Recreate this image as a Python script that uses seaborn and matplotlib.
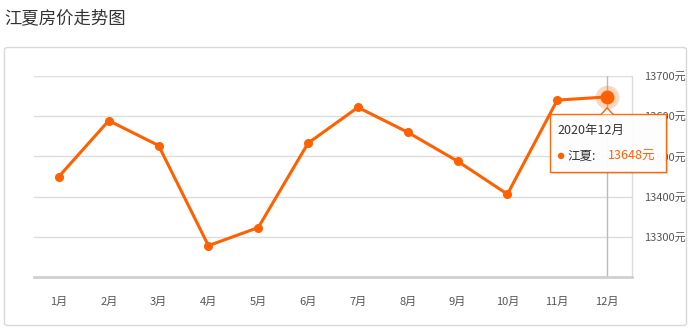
import matplotlib
matplotlib.use("Agg")
import matplotlib.pyplot as plt
import seaborn as sns
import pandas as pd
from matplotlib.patches import FancyBboxPatch, Polygon, Rectangle

months = ["1月", "2月", "3月", "4月", "5月", "6月", "7月", "8月", "9月", "10月", "11月", "12月"]
prices = [13450, 13589, 13527, 13278, 13323, 13533, 13622, 13560, 13488, 13406, 13640, 13648]
yticks = [13300, 13400, 13500, 13600, 13700]
ytick_labels = ["13300元", "13400元", "13500元", "13600元", "13700元"]
series_name = "江夏"
tooltip_title = "2020年12月"
title = "江夏房价走势图"

sns.set_theme(style="white")
plt.rcParams["font.family"] = ["Noto Sans CJK SC", "DejaVu Sans"]

ORANGE = "#ff6000"
W, H = 691, 328
fig = plt.figure(figsize=(W / 100, H / 100), dpi=100)
fig.patch.set_facecolor("white")

# outer rounded panel
panel = FancyBboxPatch((4.5 / W, 2.5 / H), (682 / W), (278 / H),
                       boxstyle="round,pad=0,rounding_size=0.006",
                       transform=fig.transFigure, facecolor="white",
                       edgecolor="#d9d9d9", linewidth=1, zorder=-10)
fig.patches.append(panel)

fig.text(4 / W, 1 - 18 / H, title, fontsize=12.5, color="#333333", va="center", ha="left")

ax = fig.add_axes([34 / W, 1 - 277 / H, (632 - 34) / W, (277 - 76) / H])
ax.set_facecolor("none")

df = pd.DataFrame({"idx": range(len(months)), "price": prices})
sns.lineplot(data=df, x="idx", y="price", ax=ax, color=ORANGE, linewidth=2.2,
             marker="o", markersize=6.5, markeredgewidth=0, zorder=5)

ax.set_xlim(-0.5, len(months) - 0.5)
ax.set_ylim(13200, 13700)
ax.set_xticks(range(len(months)))
ax.set_xticklabels(months)
ax.set_yticks(yticks)
ax.set_yticklabels(ytick_labels)
ax.set_xlabel("")
ax.set_ylabel("")
ax.yaxis.tick_right()
ax.tick_params(axis="y", length=0, pad=9, labelsize=8, labelcolor="#555555")
ax.tick_params(axis="x", length=5, width=1, color="#d0d0d0", pad=9, labelsize=8,
               labelcolor="#555555", direction="out")
for y in yticks:
    ax.axhline(y, color="#dcdcdc", linewidth=1, zorder=0)
for s in ["top", "left"]:
    ax.spines[s].set_visible(False)
ax.spines["right"].set_color("#dcdcdc")
ax.spines["right"].set_linewidth(1)
ax.spines["bottom"].set_color("#d0d0d0")
ax.spines["bottom"].set_linewidth(2)

# crosshair and highlighted point for the last month
last = len(months) - 1
ax.axvline(last, color="#bbbbbb", linewidth=1, zorder=1)
ax.plot([last], [prices[last]], "o", color=ORANGE, alpha=0.25, markersize=17,
        markeredgewidth=0, zorder=6, clip_on=False)
ax.plot([last], [prices[last]], "o", color=ORANGE, markersize=10,
        markeredgewidth=0, zorder=7, clip_on=False)

# tooltip positioned relative to the highlighted point (display pixels)
fig.canvas.draw()
px, py = ax.transData.transform((last, prices[last]))
left, right = px - 57, px + 59
top, bottom = py - 17, py - 75
shadow = Rectangle((left + 2, bottom - 2), right - left, top - bottom, transform=None,
                   facecolor="#000000", alpha=0.12, edgecolor="none", zorder=20)
box = Rectangle((left, bottom), right - left, top - bottom, transform=None,
                facecolor="white", edgecolor=ORANGE, linewidth=1, zorder=21, alpha=0.95)
arrow = Polygon([(px - 6, top - 0.5), (px, top + 6), (px + 6, top - 0.5)], closed=False,
                transform=None, facecolor="white", edgecolor=ORANGE, linewidth=1, zorder=22)
fig.patches.extend([shadow, box, arrow])
fig.text((left + 7) / W, (top - 17) / H, tooltip_title, fontsize=9, color="#333333",
         va="center", ha="left", zorder=23)
fig.patches.append(plt.Circle((left + 11, top - 42), 3.2, transform=None,
                              facecolor=ORANGE, edgecolor="none", zorder=23))
fig.text((left + 17) / W, (top - 42) / H, series_name + ":", fontsize=9, color="#333333",
         va="center", ha="left", zorder=23)
fig.text((left + 58) / W, (top - 42) / H, f"{prices[last]}元", fontsize=9, color=ORANGE,
         va="center", ha="left", zorder=23)

fig.savefig("out.png", dpi=100)
